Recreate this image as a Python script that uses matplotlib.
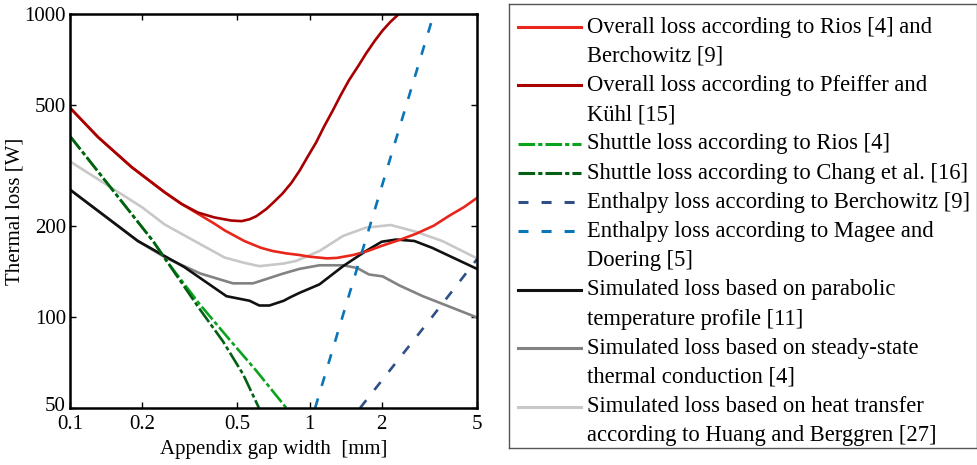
import matplotlib
matplotlib.use("Agg")
import matplotlib.pyplot as plt
import matplotlib.transforms as mtransforms
from matplotlib.ticker import NullLocator

plt.rcParams['font.family'] = ['Liberation Serif', 'DejaVu Serif']
plt.rcParams['font.size'] = 15
plt.rcParams['lines.scale_dashes'] = False

# ---- data (gap width in mm, loss in W) ----
rios_x = [0.1, 0.131, 0.181, 0.248, 0.292, 0.342, 0.401, 0.442, 0.534, 0.627, 0.7,
          0.8, 0.908, 1.0, 1.18, 1.3, 1.52, 1.75, 2.02, 2.4, 2.78, 3.3, 3.84, 4.4, 5.0]
rios_y = [490, 392, 312, 258, 236, 219, 203, 193, 178, 169, 165,
          162, 160, 158, 156, 156.5, 160, 165, 172, 180, 188, 200, 216, 230, 247]

pfeiffer_x = [0.1, 0.131, 0.181, 0.248, 0.292, 0.342, 0.4, 0.47, 0.52, 0.562, 0.6,
              0.66, 0.7, 0.77, 0.84, 0.909, 0.98, 1.066, 1.15, 1.25, 1.35, 1.46,
              1.6, 1.72, 1.87, 2.02, 2.17, 2.33, 2.45]
pfeiffer_y = [490, 392, 312, 258, 236, 221, 213, 208, 207, 210, 215,
              227, 237, 255, 277, 304, 337, 377, 425, 480, 540, 604,
              675, 740, 815, 883, 940, 991, 1040]

shuttle_rios_x = [0.1, 0.222, 0.253, 0.348, 0.464, 0.6, 0.8]
shuttle_rios_y = [395, 178, 153, 110, 84, 66.3, 50]

shuttle_chang_x = [0.1, 0.222, 0.253, 0.348, 0.435, 0.528, 0.615]
shuttle_chang_y = [395, 178, 153, 106, 83, 64.6, 50]

enth_berch_x = [1.625, 3.25, 5.0]
enth_berch_y = [50, 100, 155]

enth_magee_x = [1.055, 1.372, 1.787, 3.30]
enth_magee_y = [50, 100, 200, 1000]

parab_x = [0.1, 0.192, 0.3, 0.45, 0.562, 0.617, 0.68, 0.78, 0.83, 0.908, 1.1, 1.38,
           1.72, 2.0, 2.3, 2.74, 3.25, 3.96, 5.0]
parab_y = [263, 178, 146, 117, 113, 109, 109, 113, 116, 120, 128, 147,
           165, 177, 180, 178, 169, 157, 144]

steady_x = [0.1, 0.192, 0.25, 0.35, 0.479, 0.58, 0.617, 0.77, 0.908, 1.1, 1.38,
            1.58, 1.77, 2.02, 2.37, 2.97, 3.96, 5.0]
steady_y = [263, 178, 157, 139, 129, 129, 131, 138.7, 144, 148, 148,
            145, 138, 136, 127, 117, 107, 99.5]

huang_x = [0.1, 0.2, 0.248, 0.331, 0.442, 0.53, 0.617, 0.78, 0.88, 1.1, 1.38, 1.72,
           2.18, 2.78, 3.58, 5.0]
huang_y = [326, 230, 202, 178, 157, 151, 147, 150, 153, 165, 185, 197,
           201, 191, 178, 156]

labels = [
    'Overall loss according to Rios [4] and\nBerchowitz [9]',
    'Overall loss according to Pfeiffer and\nKühl [15]',
    'Shuttle loss according to Rios [4]',
    'Shuttle loss according to Chang et al. [16]',
    'Enthalpy loss according to Berchowitz [9]',
    'Enthalpy loss according to Magee and\nDoering [5]',
    'Simulated loss based on parabolic\ntemperature profile [11]',
    'Simulated loss based on steady-state\nthermal conduction [4]',
    'Simulated loss based on heat transfer\naccording to Huang and Berggren [27]',
]

dashdot = (12, 2.2, 3, 2.2)
dashed = (7.2, 9.4)
styles = [
    dict(color='#e8261b', ls='-'),
    dict(color='#a80000', ls='-'),
    dict(color='#0aa31e', ls=(0, dashdot)),
    dict(color='#036012', ls=(0, dashdot)),
    dict(color='#2f4f88', ls=(0, dashed)),
    dict(color='#0a74b8', ls=(0, dashed)),
    dict(color='#111111', ls='-'),
    dict(color='#828282', ls='-'),
    dict(color='#c8c8c8', ls='-'),
]
series = [(rios_x, rios_y), (pfeiffer_x, pfeiffer_y),
          (shuttle_rios_x, shuttle_rios_y), (shuttle_chang_x, shuttle_chang_y),
          (enth_berch_x, enth_berch_y), (enth_magee_x, enth_magee_y),
          (parab_x, parab_y), (steady_x, steady_y), (huang_x, huang_y)]

W, H = 978, 465
fig = plt.figure(figsize=(W / 100, H / 100), dpi=100)
ax = fig.add_axes([70 / W, (H - 408) / H, 407 / W, 394 / H])

# draw back to front so the simulated curves sit under the others like the reference
order = [8, 7, 6, 0, 1, 2, 3, 4, 5]
for i in order:
    xs, ys = series[i]
    ax.plot(xs, ys, lw=1.9, **styles[i])

ax.set_xscale('log')
ax.set_yscale('log')
ax.set_xlim(0.1, 5)
ax.set_ylim(50, 1000)
ax.set_xticks([0.1, 0.2, 0.5, 1, 2, 5])
ax.set_xticklabels(['0.1', '0.2', '0.5', '1', '2', '5'])
ax.set_yticks([50, 100, 200, 500, 1000])
ax.set_yticklabels(['50', '100', '200', '500', '1000'])
ax.xaxis.set_minor_locator(NullLocator())
ax.yaxis.set_minor_locator(NullLocator())
ax.tick_params(direction='in', length=4, width=1, top=True, right=True)
ax.tick_params(axis='x', pad=5)
ax.tick_params(axis='y', pad=3)
for s in ax.spines.values():
    s.set_linewidth(1.8)

# nudge the "50" label up a little so it clears "0.1"
lab50 = ax.get_yticklabels()[0]
lab50.set_transform(lab50.get_transform() +
                    mtransforms.ScaledTranslation(0, 4 / 100, fig.dpi_scale_trans))

ax.set_xlabel('Appendix gap width  [mm]', labelpad=4)
ax.set_ylabel('Thermal loss [W]', labelpad=0)

# legend drawn by hand so each handle sits on the first line of its label
lg = fig.add_axes([509 / W, (H - 448) / H, 468 / W, 444 / H])
lg.set_xlim(0, 468)
lg.set_ylim(444, 0)
lg.set_xticks([])
lg.set_yticks([])
for s in lg.spines.values():
    s.set_linewidth(1.0)
    s.set_color('#555555')

line_y0, pitch = 23.0, 29.2
row = 0
for i, lab in enumerate(labels):
    y = line_y0 + pitch * row
    lg.plot([9, 72], [y, y], lw=2.2, **styles[i])
    for part in lab.split('\n'):
        lg.text(78, line_y0 + pitch * row, part, va='center', ha='left',
                fontsize=16.3)
        row += 1

fig.savefig('out.png', dpi=100)
